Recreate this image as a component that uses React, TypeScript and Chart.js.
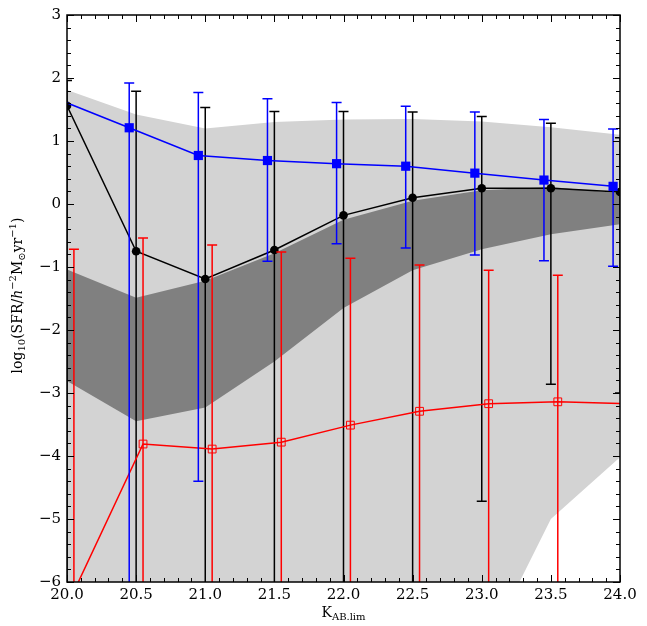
import React, { useEffect, useRef } from "react";
import { Chart, registerables } from "chart.js";
Chart.register(...registerables);

// ---------- data ----------
const xTicks = [20.0, 20.5, 21.0, 21.5, 22.0, 22.5, 23.0, 23.5, 24.0];
const yTicks = [-6, -5, -4, -3, -2, -1, 0, 1, 2, 3];
const xMinorStep = 0.1;
const yMinorStep = 0.2;

// blue filled squares
const blueX = [19.95, 20.45, 20.95, 21.45, 21.95, 22.45, 22.95, 23.45, 23.95];
const blueY = [1.65, 1.21, 0.77, 0.69, 0.64, 0.6, 0.49, 0.38, 0.28];
const blueHi = [2.05, 1.92, 1.77, 1.67, 1.61, 1.55, 1.46, 1.34, 1.19];
const blueLo = [-1.0, -8.0, -4.4, -0.91, -0.63, -0.7, -0.81, -0.9, -0.99];

// black filled circles
const blackX = [20.0, 20.5, 21.0, 21.5, 22.0, 22.5, 23.0, 23.5, 24.0];
const blackY = [1.56, -0.75, -1.19, -0.73, -0.18, 0.1, 0.25, 0.25, 0.19];
const blackHi = [1.96, 1.79, 1.53, 1.47, 1.47, 1.46, 1.39, 1.28, 1.05];
const blackLo = [-8.0, -8.0, -8.0, -8.0, -8.0, -8.0, -4.72, -2.86, -3.0];

// red open squares
const redX = [20.05, 20.55, 21.05, 21.55, 22.05, 22.55, 23.05, 23.55, 24.05];
const redY = [-6.15, -3.81, -3.89, -3.78, -3.51, -3.29, -3.17, -3.14, -3.17];
const redHi = [-0.72, -0.54, -0.65, -0.76, -0.86, -0.97, -1.05, -1.13, -1.2];
const redLo = [-8.0, -8.0, -8.0, -8.0, -8.0, -8.0, -8.0, -8.0, -8.0];

// shaded bands
const bandX = [20.0, 20.5, 21.0, 21.5, 22.0, 22.5, 23.0, 23.5, 24.0];
const lightUpper = [1.81, 1.42, 1.2, 1.3, 1.34, 1.35, 1.31, 1.22, 1.1];
const lightLower = [-8.0, -8.0, -8.0, -8.0, -8.0, -8.0, -7.2, -5.0, -4.02];
const darkUpper = [-1.04, -1.49, -1.22, -0.78, -0.25, 0.05, 0.22, 0.27, 0.17];
const darkLower = [-2.81, -3.45, -3.23, -2.5, -1.65, -1.05, -0.72, -0.48, -0.32];

const xLabelSegs = [
  { t: "K", size: 14, dy: 0 },
  { t: "AB.lim", size: 10, dy: 3 },
];
const yLabelSegs = [
  { t: "log", size: 14, dy: 0 },
  { t: "10", size: 10, dy: 3 },
  { t: "(SFR/", size: 14, dy: 0 },
  { t: "h", size: 14, dy: 0, italic: true },
  { t: "−2", size: 10, dy: -6 },
  { t: "M", size: 14, dy: 0 },
  { t: "⊙", size: 10, dy: 3 },
  { t: "yr", size: 14, dy: 0 },
  { t: "−1", size: 10, dy: -6 },
  { t: ")", size: 14, dy: 0 },
];

const FAMILY = "'DejaVu Serif', serif";

const pts = (xs: number[], ys: number[]) => xs.map((x, i) => ({ x, y: ys[i] }));

type Seg = { t: string; size: number; dy: number; italic?: boolean };
function drawRich(ctx: CanvasRenderingContext2D, segs: Seg[], cx: number, by: number) {
  const fonts = segs.map((s) => `${s.italic ? "italic " : ""}${s.size}px ${FAMILY}`);
  const widths = segs.map((s, i) => {
    ctx.font = fonts[i];
    return ctx.measureText(s.t).width;
  });
  const total = widths.reduce((a, b) => a + b, 0);
  let x = cx - total / 2;
  ctx.textBaseline = "alphabetic";
  ctx.textAlign = "left";
  segs.forEach((s, i) => {
    ctx.font = fonts[i];
    ctx.fillText(s.t, x, by + s.dy);
    x += widths[i];
  });
}

const errorBarPlugin = {
  id: "errorBars",
  beforeDatasetDraw(chart: any, args: any) {
    const ds = chart.data.datasets[args.index];
    if (!ds.errLo) return;
    const { ctx, chartArea: a, scales } = chart;
    const meta = args.meta;
    ctx.save();
    ctx.beginPath();
    ctx.rect(a.left, a.top, a.right - a.left, a.bottom - a.top);
    ctx.clip();
    ctx.strokeStyle = ds.borderColor;
    ctx.lineWidth = 1.5;
    const cap = 5;
    meta.data.forEach((el: any, i: number) => {
      const x = el.x;
      const yHi = scales.y.getPixelForValue(ds.errHi[i]);
      const yLo = scales.y.getPixelForValue(ds.errLo[i]);
      ctx.beginPath();
      ctx.moveTo(x, yHi);
      ctx.lineTo(x, yLo);
      ctx.moveTo(x - cap, yHi);
      ctx.lineTo(x + cap, yHi);
      ctx.moveTo(x - cap, yLo);
      ctx.lineTo(x + cap, yLo);
      ctx.stroke();
    });
    ctx.restore();
  },
};

const framePlugin = {
  id: "frameTicks",
  afterDraw(chart: any) {
    const { ctx, chartArea: a, scales } = chart;
    const xs = scales.x;
    const ys = scales.y;
    ctx.save();
    ctx.strokeStyle = "#000";
    ctx.lineWidth = 1;
    const major = 7;
    const minor = 4;
    const xMin = xTicks[0];
    const xMax = xTicks[xTicks.length - 1];
    const yMin = yTicks[0];
    const yMax = yTicks[yTicks.length - 1];
    ctx.beginPath();
    const nx = Math.round((xMax - xMin) / xMinorStep);
    for (let k = 0; k <= nx; k++) {
      const v = xMin + k * xMinorStep;
      const isMajor = xTicks.some((t) => Math.abs(t - v) < 1e-6);
      const len = isMajor ? major : minor;
      const px = Math.round(xs.getPixelForValue(v)) + 0.5;
      ctx.moveTo(px, a.bottom);
      ctx.lineTo(px, a.bottom - len);
      ctx.moveTo(px, a.top);
      ctx.lineTo(px, a.top + len);
    }
    const ny = Math.round((yMax - yMin) / yMinorStep);
    for (let k = 0; k <= ny; k++) {
      const v = yMin + k * yMinorStep;
      const isMajor = yTicks.some((t) => Math.abs(t - v) < 1e-6);
      const len = isMajor ? major : minor;
      const py = Math.round(ys.getPixelForValue(v)) + 0.5;
      ctx.moveTo(a.left, py);
      ctx.lineTo(a.left + len, py);
      ctx.moveTo(a.right, py);
      ctx.lineTo(a.right - len, py);
    }
    ctx.stroke();
    ctx.lineWidth = 1.5;
    ctx.strokeRect(a.left, a.top, a.right - a.left, a.bottom - a.top);

    ctx.fillStyle = "#000";
    drawRich(ctx, xLabelSegs, (a.left + a.right) / 2, 617);
    ctx.save();
    ctx.translate(21.5, (a.top + a.bottom) / 2 - 3);
    ctx.rotate(-Math.PI / 2);
    drawRich(ctx, yLabelSegs, 0, 0);
    ctx.restore();
    ctx.restore();
  },
};

export default function App() {
  const ref = useRef<HTMLCanvasElement | null>(null);
  useEffect(() => {
    document.body.style.margin = "0";
    const canvas = ref.current;
    if (!canvas) return;
    const chart = new Chart(canvas, {
      type: "line",
      data: {
        datasets: [
          {
            label: "blue",
            data: pts(blueX, blueY),
            borderColor: "#0000ff",
            backgroundColor: "#0000ff",
            borderWidth: 1.5,
            pointStyle: "rect",
            pointRadius: 6.5,
            pointBorderWidth: 0,
            pointBackgroundColor: "#0000ff",
            fill: false,
            order: 1,
            clip: 0,
            errHi: blueHi,
            errLo: blueLo,
          } as any,
          {
            label: "red",
            data: pts(redX, redY),
            borderColor: "#ff0000",
            backgroundColor: "rgba(0,0,0,0)",
            borderWidth: 1.5,
            pointStyle: "rect",
            pointRadius: 5.5,
            pointBorderWidth: 1,
            pointBorderColor: "#ff0000",
            pointBackgroundColor: "rgba(0,0,0,0)",
            fill: false,
            order: 2,
            clip: 0,
            errHi: redHi,
            errLo: redLo,
          } as any,
          {
            label: "black",
            data: pts(blackX, blackY),
            borderColor: "#000000",
            backgroundColor: "#000000",
            borderWidth: 1.5,
            pointStyle: "circle",
            pointRadius: 4.3,
            pointBorderWidth: 0,
            pointBackgroundColor: "#000000",
            fill: false,
            order: 3,
            clip: 0,
            errHi: blackHi,
            errLo: blackLo,
          } as any,
          {
            label: "darkUpper",
            data: pts(bandX, darkUpper),
            borderWidth: 0,
            borderColor: "rgba(0,0,0,0)",
            pointRadius: 0,
            backgroundColor: "#808080",
            fill: "+1",
            order: 4,
            clip: 0,
          },
          {
            label: "darkLower",
            data: pts(bandX, darkLower),
            borderWidth: 0,
            borderColor: "rgba(0,0,0,0)",
            pointRadius: 0,
            fill: false,
            order: 4,
            clip: 0,
          },
          {
            label: "lightUpper",
            data: pts(bandX, lightUpper),
            borderWidth: 0,
            borderColor: "rgba(0,0,0,0)",
            pointRadius: 0,
            backgroundColor: "#d3d3d3",
            fill: "+1",
            order: 5,
            clip: 0,
          },
          {
            label: "lightLower",
            data: pts(bandX, lightLower),
            borderWidth: 0,
            borderColor: "rgba(0,0,0,0)",
            pointRadius: 0,
            fill: false,
            order: 5,
            clip: 0,
          },
        ],
      },
      options: {
        animation: false,
        responsive: false,
        events: [],
        layout: { padding: { top: 13, right: 27, left: 0, bottom: 0 } },
        plugins: {
          legend: { display: false },
          tooltip: { enabled: false },
          filler: { propagate: false },
        },
        scales: {
          x: {
            type: "linear",
            min: 20,
            max: 24,
            grid: { display: false, drawTicks: false },
            border: { display: false },
            afterBuildTicks: (s: any) => {
              s.ticks = xTicks.map((v) => ({ value: v }));
            },
            afterFit: (s: any) => {
              s.height = 44;
            },
            ticks: {
              color: "#000",
              padding: 4,
              maxRotation: 0,
              autoSkip: false,
              font: { family: FAMILY, size: 15 },
              callback: (v: any) => Number(v).toFixed(1),
            },
          },
          y: {
            type: "linear",
            min: -6,
            max: 3,
            grid: { display: false, drawTicks: false },
            border: { display: false },
            afterBuildTicks: (s: any) => {
              s.ticks = yTicks.map((v) => ({ value: v }));
            },
            afterFit: (s: any) => {
              s.width = 67;
            },
            ticks: {
              color: "#000",
              padding: 6,
              autoSkip: false,
              font: { family: FAMILY, size: 15 },
              callback: (v: any) => (Number(v) < 0 ? "−" + Math.abs(Number(v)) : String(v)),
            },
          },
        },
      },
      plugins: [errorBarPlugin, framePlugin],
    });
    return () => chart.destroy();
  }, []);
  return (
    <div style={{ position: "absolute", left: 0, top: 0, width: 647, height: 626, background: "#fff" }}>
      <canvas ref={ref} width={647} height={626} style={{ width: 647, height: 626, display: "block" }} />
    </div>
  );
}
